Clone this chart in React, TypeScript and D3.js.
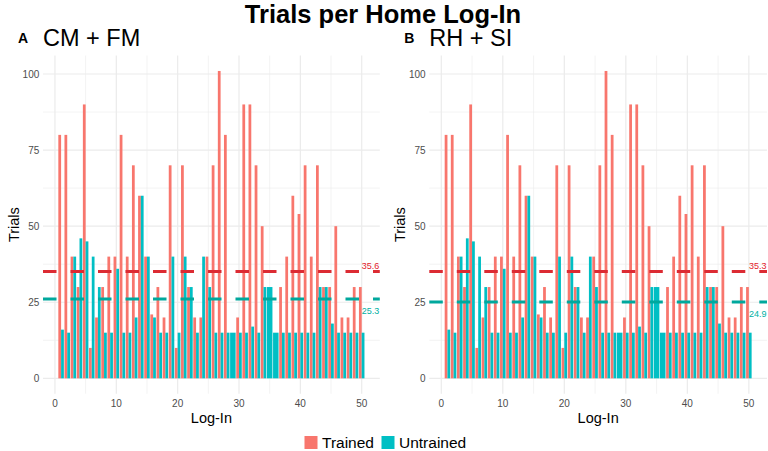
import React from 'react';
import * as d3 from 'd3';

// values per log-in (index 0 = log-in 1); null = no bar for that group
const trained: (number | null)[] = [
  80, 80, 40, 30, 90, 10, 20, 30, 40, 40,
  80, 40, 70, 60, 40, 21, 30, 20, 70, 10,
  70, 30, 20, 20, 40, 70, 101, 80, null, 20,
  90, 90, 70, 50, null, null, 30, 40, 60, 54,
  70, 40, 70, 30, 30, 50, 20, 20, 30, 30,
];
const untrained: (number | null)[] = [
  16, 15, 40, 46, 45, 40, 30, 15, 15, 36,
  15, 15, 20, 60, 40, 20, 15, 15, 40, 15,
  40, 30, 15, 40, 30, 15, 15, 15, 15, 15,
  15, 17, 15, 30, 30, 15, 15, 15, 15, 15,
  15, 15, 30, 30, 18, 15, 15, 15, 15, 15,
];

const panelTags = ['A', 'B'];
const panelNames = ['CM + FM', 'RH + SI'];
// dashed mean lines as drawn, and the printed labels
const trainedMeanLine = [35.1, 35.1];
const untrainedMeanLine = [26.1, 25.1];
const trainedMeanLabel = ['35.6', '35.3'];
const untrainedMeanLabel = ['25.3', '24.9'];

const xTicks = [0, 10, 20, 30, 40, 50];
const xMinor = [5, 15, 25, 35, 45];
const yTicks = [0, 25, 50, 75, 100];
const yMinor = [12.5, 37.5, 62.5, 87.5];
const groups = ['Trained', 'Untrained'];

const RED = '#F8766D';
const TEAL = '#00BFC4';
const RED_LINE = '#DC2B33';
const TEAL_LINE = '#00A89D';
const FONT = "'Liberation Sans', Arial, sans-serif";

const Panel: React.FC<{ idx: number; left: number; right: number }> = ({ idx, left, right }) => {
  const top = 55.6;
  const bottom = 393.7;
  const x = d3.scaleLinear().domain([-1.95, 52.95]).range([left, right]);
  const y = d3.scaleLinear().domain([-5.05, 106.05]).range([bottom, top]);
  const half = 0.45;
  const ox = left - 43;

  const bars: JSX.Element[] = [];
  trained.forEach((t, i) => {
    const login = i + 1;
    const u = untrained[i];
    if (t != null && u != null) {
      bars.push(<rect key={`t${i}`} x={x(login - half)} width={x(login) - x(login - half)} y={y(t)} height={y(0) - y(t)} fill={RED} />);
      bars.push(<rect key={`u${i}`} x={x(login)} width={x(login + half) - x(login)} y={y(u)} height={y(0) - y(u)} fill={TEAL} />);
    } else if (t != null) {
      bars.push(<rect key={`t${i}`} x={x(login - half)} width={x(login + half) - x(login - half)} y={y(t)} height={y(0) - y(t)} fill={RED} />);
    } else if (u != null) {
      bars.push(<rect key={`u${i}`} x={x(login - half)} width={x(login + half) - x(login - half)} y={y(u)} height={y(0) - y(u)} fill={TEAL} />);
    }
  });

  return (
    <g fontFamily={FONT}>
      <text x={18 + ox} y={43.3} fontSize={14} fontWeight="bold">{panelTags[idx]}</text>
      <text x={left} y={45.7} fontSize={23.5}>{panelNames[idx]}</text>
      {yMinor.map(v => (
        <line key={`ym${v}`} x1={left} x2={right} y1={y(v)} y2={y(v)} stroke="#EBEBEB" strokeWidth={0.6} />
      ))}
      {xMinor.map(v => (
        <line key={`xm${v}`} x1={x(v)} x2={x(v)} y1={top} y2={bottom} stroke="#EBEBEB" strokeWidth={0.6} />
      ))}
      {yTicks.map(v => (
        <line key={`y${v}`} x1={left} x2={right} y1={y(v)} y2={y(v)} stroke="#EBEBEB" strokeWidth={1.2} />
      ))}
      {xTicks.map(v => (
        <line key={`x${v}`} x1={x(v)} x2={x(v)} y1={top} y2={bottom} stroke="#EBEBEB" strokeWidth={1.2} />
      ))}
      {bars}
      <line x1={left} x2={right} y1={y(trainedMeanLine[idx])} y2={y(trainedMeanLine[idx])}
        stroke={RED_LINE} strokeWidth={3} strokeDasharray="13.5 14" />
      <line x1={left} x2={right} y1={y(untrainedMeanLine[idx])} y2={y(untrainedMeanLine[idx])}
        stroke={TEAL_LINE} strokeWidth={3} strokeDasharray="13.5 14" />
      <text x={right - 0.5} y={y(trainedMeanLine[idx]) - 3} fontSize={9} textAnchor="end" fill="#E3222B">
        {trainedMeanLabel[idx]}
      </text>
      <text x={right - 0.5} y={y(untrainedMeanLine[idx]) + 15.5} fontSize={9} textAnchor="end" fill="#00AFA3">
        {untrainedMeanLabel[idx]}
      </text>
      {yTicks.map(v => (
        <text key={`yl${v}`} x={left - 3.7} y={y(v) + 3.6} fontSize={10} textAnchor="end" fill="#4D4D4D">{v}</text>
      ))}
      {xTicks.map(v => (
        <text key={`xl${v}`} x={x(v)} y={407.3} fontSize={10} textAnchor="middle" fill="#4D4D4D">{v}</text>
      ))}
      <text x={(left + right) / 2} y={422.5} fontSize={14.5} textAnchor="middle">Log-In</text>
      <text transform={`translate(${18.5 + ox},${(top + bottom) / 2}) rotate(-90)`} fontSize={14.5} textAnchor="middle">Trials</text>
    </g>
  );
};

const App: React.FC = () => {
  const legendX = [304.5, 381.5];
  return (
    <svg width={768} height={451} style={{ position: 'absolute', left: 0, top: 0, background: '#fff' }}>
      <rect width={768} height={451} fill="#fff" />
      <text x={383} y={22.5} fontFamily={FONT} fontSize={25.5} fontWeight="bold" textAnchor="middle">
        Trials per Home Log-In
      </text>
      <Panel idx={0} left={43} right={379.8} />
      <Panel idx={1} left={429.3} right={767} />
      {groups.map((g, i) => (
        <g key={g} fontFamily={FONT}>
          <rect x={legendX[i]} y={436} width={13} height={13} fill={i === 0 ? RED : TEAL} />
          <text x={legendX[i] + 17.5} y={448.3} fontSize={15.5}>{g}</text>
        </g>
      ))}
    </svg>
  );
};

export default App;
